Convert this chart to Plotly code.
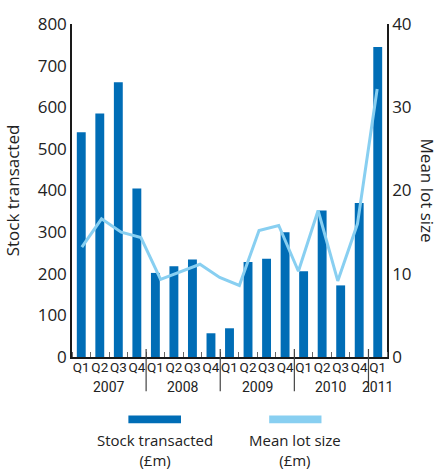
import plotly.graph_objects as go

# Quarterly stock transacted (£m), 2007 Q1 – 2011 Q1
quarters = ["Q1", "Q2", "Q3", "Q4"] * 4 + ["Q1"]
year_labels = ["2007", "2008", "2009", "2010", "2011"]
quarters_per_year = [4, 4, 4, 4, 1]
stock_transacted = [540, 585, 660, 405, 202, 218, 234, 57, 69, 228, 236, 300,
                    206, 352, 172, 370, 745]

# Mean lot size (£m)
mean_lot_size = [13.2, 16.6, 15.0, 14.35, 9.33, 10.2, 11.14, 9.56, 8.59, 15.2,
                 15.8, 10.3, 17.6, 9.14, 16.0, 32.2]

quarter_pos = list(range(len(quarters)))
lot_index = list(range(len(mean_lot_size)))

BAR = "#006db6"
LINE = "#88cff1"
AXIS = "#1a1a1a"
FONT = "Open Sans"
NARROW = "Roboto"
TXT = "#222222"

fig = go.Figure()
fig.add_trace(go.Bar(
    x=quarter_pos, y=stock_transacted, marker_color=BAR,
    marker_line_width=0, name="Stock transacted (£m)", showlegend=False,
))
fig.add_trace(go.Scatter(
    x=lot_index, y=mean_lot_size, xaxis="x2", yaxis="y2", mode="lines",
    line=dict(color=LINE, width=3), name="Mean lot size (£m)", showlegend=False,
))

n = len(quarters)
fig.update_layout(
    width=441, height=472,
    margin=dict(l=69, r=54, t=17, b=115),
    paper_bgcolor="white", plot_bgcolor="white",
    font=dict(family=FONT, color=TXT),
    bargap=0.52,
    xaxis=dict(
        range=[-0.5, n - 0.5], tickmode="array", tickvals=quarter_pos,
        ticktext=quarters, ticks="", showline=True, linecolor=AXIS,
        linewidth=1.5, tickfont=dict(family=NARROW, size=13.5, color=TXT),
        showgrid=False, zeroline=False, tickangle=0, ticklabelstandoff=-3,
        minor=dict(tickmode="linear", tick0=0.5, dtick=1, ticks="inside",
                   ticklen=5, tickcolor="#666", tickwidth=1, showgrid=False),
    ),
    xaxis2=dict(overlaying="x", range=[-0.5, len(mean_lot_size) - 0.5],
                visible=False),
    yaxis=dict(
        range=[0, 800], dtick=100, showgrid=False, zeroline=False,
        showline=True, linecolor=AXIS, linewidth=1.5, ticks="",
        tickfont=dict(size=17, color=TXT),
        title=dict(text="Stock transacted", font=dict(size=17, color=TXT), standoff=14),
    ),
    yaxis2=dict(
        overlaying="y", side="right", range=[0, 40], dtick=10,
        showgrid=False, zeroline=False, showline=True, linecolor=AXIS,
        linewidth=1.5, ticks="", tickfont=dict(size=17, color=TXT),
    ),
)

# Year labels under each group of quarters, with dividers between years
start = 0
for label, count in zip(year_labels, quarters_per_year):
    fig.add_annotation(text=label, xref="x", yref="paper",
                       x=start + (count - 1) / 2, y=-0.091, showarrow=False,
                       xanchor="center", yanchor="middle",
                       font=dict(family=NARROW, size=14, color=TXT))
    end = start + count
    if end < n:
        fig.add_shape(type="line", xref="x", yref="paper",
                      x0=end - 0.5, x1=end - 0.5, y0=0.024, y1=-0.103,
                      line=dict(color="#444", width=1.2))
    start = end

# Right-hand axis title, reading downward
fig.add_annotation(
    text="Mean lot size", xref="paper", yref="paper", x=1.13, y=0.5,
    textangle=90, showarrow=False, font=dict(size=17, color=TXT),
    xanchor="center", yanchor="middle",
)

# Legend: swatches with two-line captions beneath
legend_items = [("Stock transacted<br>(£m)", BAR, 0.179, 0.346),
                ("Mean lot size<br>(£m)", LINE, 0.626, 0.792)]
for label, color, x0, x1 in legend_items:
    fig.add_shape(type="rect", xref="paper", yref="paper", x0=x0, x1=x1,
                  y0=-0.199, y1=-0.176, fillcolor=color, line_width=0)
    fig.add_annotation(text=label, xref="paper", yref="paper",
                       x=(x0 + x1) / 2, y=-0.212, showarrow=False,
                       xanchor="center", yanchor="top",
                       font=dict(size=15, color=TXT))

fig.write_html("out.html")
